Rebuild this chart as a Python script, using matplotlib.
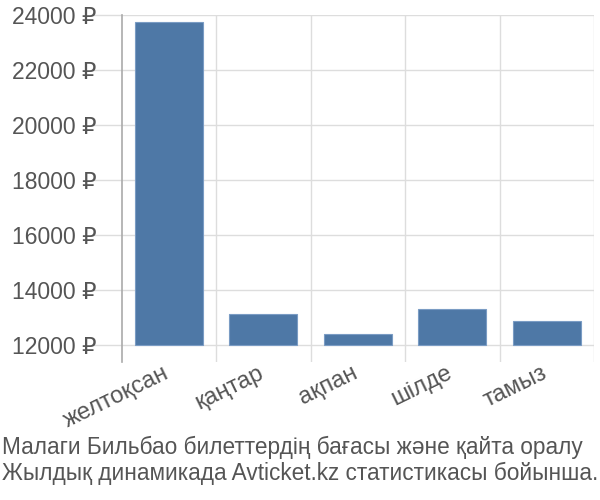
import matplotlib.pyplot as plt
import matplotlib.transforms as mtransforms
import numpy as np

months = ['желтоқсан', 'қаңтар', 'ақпан', 'шілде', 'тамыз']
prices = [23750, 13120, 12400, 13310, 12860]
yticks = [12000, 14000, 16000, 18000, 20000, 22000, 24000]
caption = ('Малаги Бильбао билеттердің бағасы және қайта оралу\n'
           'Жылдық динамикада Avticket.kz статистикасы бойынша.')

fam = ['Liberation Sans', 'DejaVu Sans']
plt.rcParams['font.family'] = fam

fig = plt.figure(figsize=(6, 5), dpi=100)
ax = fig.add_axes([0.203, 0.276, 0.787, 0.694])

base = 12000
x = np.arange(len(months))
ax.bar(x, np.array(prices) - base, bottom=base, width=0.72,
       color='#4e78a6', edgecolor='#7a9cc4', linewidth=0.8, zorder=3)

ax.set_xlim(-0.5, len(months) - 0.5)
ax.set_ylim(11380, 24000)

ax.set_yticks(yticks)
ax.set_yticklabels([f'{v} ₽' for v in yticks])
ax.set_xticks(x)
ax.set_xticklabels(months, rotation=26, ha='right', rotation_mode='anchor')

ax.tick_params(axis='y', length=21, color='#dddddd', width=1,
               labelsize=16.5, labelcolor='#555555', pad=-3)
ax.tick_params(axis='x', which='major', length=0, labelsize=17,
               labelcolor='#555555', pad=0)

# nudge the rotated month labels a little to the left
shift = mtransforms.ScaledTranslation(-6 / 100, 0, fig.dpi_scale_trans)
for lbl in ax.get_xticklabels():
    lbl.set_transform(lbl.get_transform() + shift)

for v in yticks:
    ax.axhline(v, color='#dddddd', linewidth=1, zorder=1)
for b in np.arange(1, len(months) + 1) - 0.5:
    ax.axvline(b, color='#dddddd', linewidth=1, zorder=1)

for s in ['top', 'right', 'bottom']:
    ax.spines[s].set_visible(False)
ax.spines['left'].set_color('#aaaaaa')
ax.spines['left'].set_linewidth(1.2)

fig.text(0.003, 0.03, caption, fontsize=16.3, color='#555555',
         ha='left', va='bottom', linespacing=1.18)

fig.savefig('out.png', dpi=100)
